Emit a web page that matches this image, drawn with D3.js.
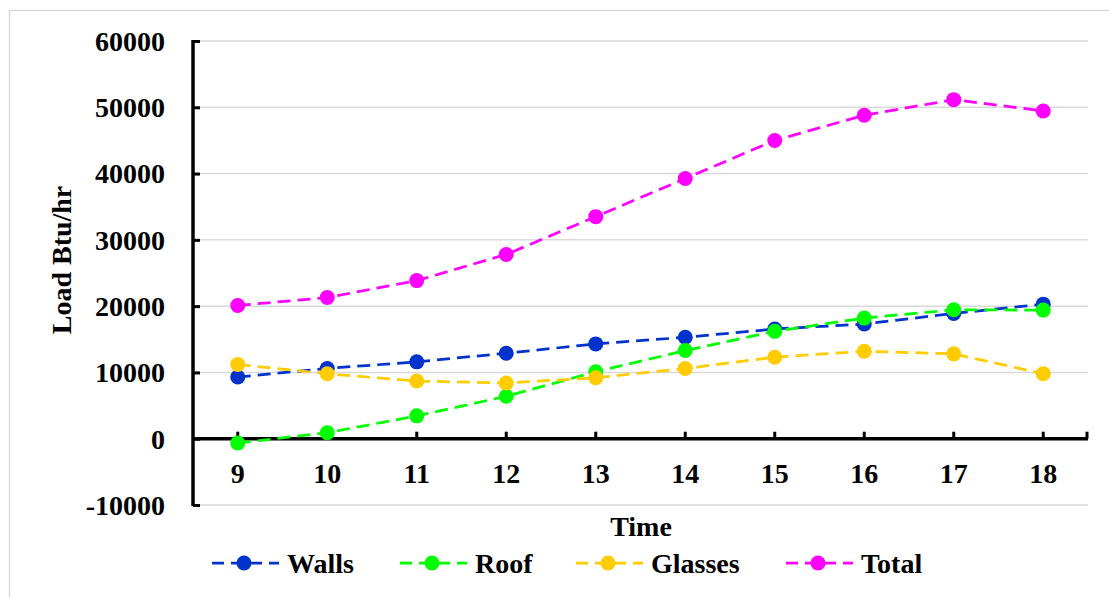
<!DOCTYPE html>
<html><head><meta charset="utf-8">
<script src="https://cdn.jsdelivr.net/npm/d3@7/dist/d3.min.js"></script>
<style>body{margin:0;background:#fff}svg{display:block}text{font-family:"Liberation Serif","Times New Roman",serif;font-weight:bold}</style>
</head><body>
<svg id="c" width="1109" height="597"></svg>
<script>
const categories = ["9","10","11","12","13","14","15","16","17","18"];
const walls   = [9300, 10600, 11600, 12900, 14300, 15300, 16550, 17300, 18900, 20300];
const roof    = [-650, 900, 3450, 6400, 10100, 13300, 16200, 18200, 19450, 19400];
const glasses = [11200, 9800, 8700, 8400, 9200, 10600, 12300, 13200, 12800, 9800];
const total   = [20100, 21300, 23850, 27800, 33500, 39250, 45000, 48800, 51150, 49450];
const yTicks  = [-10000, 0, 10000, 20000, 30000, 40000, 50000, 60000];
const seriesNames = ["Walls","Roof","Glasses","Total"];
const seriesColors = ["#0033cc","#00ff00","#ffcc00","#ff00ff"];
const seriesData = [walls, roof, glasses, total];

const svg = d3.select("#c");
const L = 193, R = 1088, T = 41, B = 505;
const x = d3.scaleBand().domain(categories).range([L, R]);
const y = d3.scaleLinear().domain([-10000, 60000]).range([B, T]);
const cx = d => x(d) + x.bandwidth()/2;

// outer border
svg.append("path").attr("d","M9.5,597 V10.5 H1109").attr("fill","none").attr("stroke","#d9d9d9").attr("stroke-width",1.5);

// gridlines
svg.append("g").selectAll("line").data(yTicks.filter(v => v !== 0)).join("line")
  .attr("x1", L).attr("x2", R).attr("y1", d => y(d)).attr("y2", d => y(d))
  .attr("stroke", "#d9d9d9").attr("stroke-width", 1.5);

// y axis
const yAxis = svg.append("g").attr("transform", `translate(${L},0)`)
  .call(d3.axisRight(y).tickValues(yTicks).tickSize(7).tickFormat(""));
yAxis.select(".domain").remove();
yAxis.selectAll(".tick line").attr("stroke", "#000").attr("stroke-width", 3);
svg.append("line").attr("x1", L).attr("x2", L).attr("y1", T-1).attr("y2", B+1).attr("stroke","#000").attr("stroke-width",3.5);
svg.append("g").selectAll("text").data(yTicks).join("text")
  .attr("x", 165).attr("y", d => y(d)).attr("dy", "0.35em").attr("text-anchor", "end")
  .attr("font-size", 28).text(d => d);

// x axis at 0
const y0 = y(0);
svg.append("line").attr("x1", L).attr("x2", R).attr("y1", y0).attr("y2", y0).attr("stroke","#000").attr("stroke-width",3.5);
const xAxis = svg.append("g").attr("transform", `translate(0,${y0})`)
  .call(d3.axisTop(x).tickSize(7).tickFormat(""));
xAxis.select(".domain").remove();
xAxis.selectAll(".tick line").attr("stroke","#000").attr("stroke-width",3);
svg.append("line").attr("x1", R-1).attr("x2", R-1).attr("y1", y0).attr("y2", y0-7).attr("stroke","#000").attr("stroke-width",3);
svg.append("g").selectAll("text").data(categories).join("text")
  .attr("x", d => cx(d)).attr("y", 483).attr("text-anchor","middle").attr("font-size",28).text(d => d);

// axis titles
svg.append("text").attr("x", 641).attr("y", 536).attr("text-anchor","middle").attr("font-size",28).text("Time");
svg.append("text").attr("transform","translate(71,260) rotate(-90)").attr("text-anchor","middle").attr("font-size",28).text("Load Btu/hr");

// series
const line = d3.line().x((d,i) => cx(categories[i])).y(d => y(d));
seriesData.forEach((arr, si) => {
  const g = svg.append("g");
  g.append("path").datum(arr).attr("d", line).attr("fill","none")
    .attr("stroke", seriesColors[si]).attr("stroke-width", 2.75).attr("stroke-dasharray","13,7");
  g.selectAll("circle").data(arr).join("circle")
    .attr("cx", (d,i) => cx(categories[i])).attr("cy", d => y(d)).attr("r", 7.5)
    .attr("fill", seriesColors[si]);
});

// legend
const legX = [211, 399, 575, 785];
const legY = 563;
seriesNames.forEach((n, i) => {
  const g = svg.append("g").attr("transform", `translate(${legX[i]},${legY})`);
  g.append("line").attr("x1",0).attr("x2",68).attr("y1",0).attr("y2",0)
    .attr("stroke", seriesColors[i]).attr("stroke-width",2.75).attr("stroke-dasharray","12,7").attr("stroke-dashoffset",-1);
  g.append("circle").attr("cx",33).attr("cy",0).attr("r",7.5).attr("fill",seriesColors[i]);
  g.append("text").attr("x",76).attr("y",0).attr("dy","0.35em").attr("font-size",28).text(n);
});
</script>
</body></html>
